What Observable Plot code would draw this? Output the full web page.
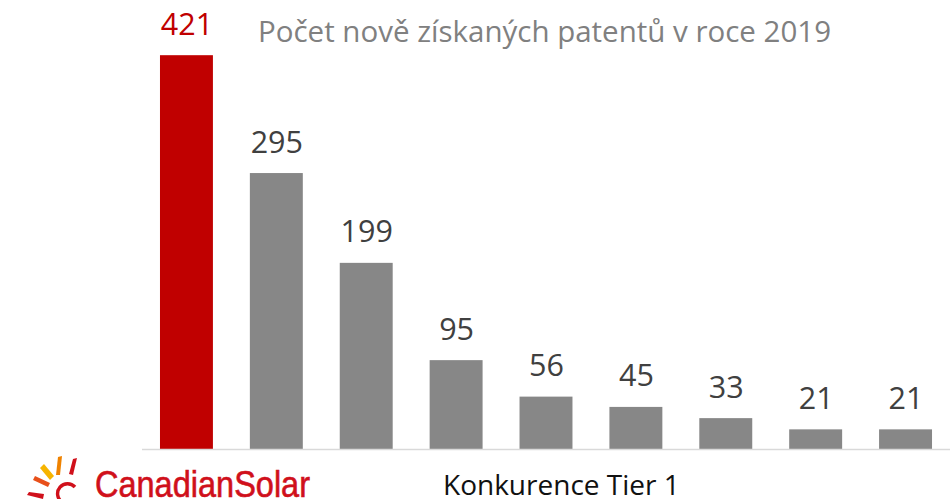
<!DOCTYPE html>
<html>
<head>
<meta charset="utf-8">
<script src="https://cdn.jsdelivr.net/npm/d3@7"></script>
<script src="https://cdn.jsdelivr.net/npm/@observablehq/plot@0.6"></script>
<style>
  html, body { margin: 0; padding: 0; background: #fff; }
  #wrap { position: relative; width: 950px; height: 499px; overflow: hidden; font-family: "Open Sans", sans-serif; }
  #chart { position: absolute; left: 0; top: 0; }
  #overlay { position: absolute; left: 0; top: 0; pointer-events: none; }
</style>
</head>
<body>
<div id="wrap">
  <div id="chart"></div>
  <svg id="overlay" width="950" height="499" viewBox="0 0 950 499">
    <text x="258" y="42" font-family="Open Sans, sans-serif" font-size="29.5" fill="#808080">Počet nově získaných patentů v roce 2019</text>
    <text x="443" y="495" font-family="Open Sans, sans-serif" font-size="28" fill="#111111">Konkurence Tier 1</text>
    <g id="logo">
      <polygon points="40,468 44,464 54,476 50,480" fill="#f6b400"/>
      <polygon points="58,457 62,456 60,475 56,475" fill="#ef8200"/>
      <polygon points="33,480 35,476 50,483 48,487" fill="#e8501a"/>
      <polygon points="73,459 77,458 73,475 69,474" fill="#d0101b"/>
      <polygon points="27,495 29,492 44,494 43,499" fill="#d0101b"/>
      <path d="M75,487 A10,10 0 1 0 62,502" fill="none" stroke="#d0101b" stroke-width="3.4"/>
      <text x="95" y="497" font-family="Liberation Sans, Arial, sans-serif" font-size="36" fill="#d0101b" stroke="#d0101b" stroke-width="0.6" textLength="215" lengthAdjust="spacingAndGlyphs">CanadianSolar</text>
    </g>
  </svg>
</div>
<script>
const categories = ["Canadian Solar", "Konkurent 1", "Konkurent 2", "Konkurent 3", "Konkurent 4", "Konkurent 5", "Konkurent 6", "Konkurent 7", "Konkurent 8"];
const values = [421, 295, 199, 95, 56, 45, 33, 21, 21];
const highlight = "Canadian Solar";

const data = categories.map((c, i) => ({category: c, value: values[i]}));

const chart = Plot.plot({
  width: 950,
  height: 499,
  marginLeft: 142,
  marginRight: 0,
  marginTop: 0,
  marginBottom: 50,
  style: {fontFamily: "Open Sans, sans-serif", background: "transparent"},
  x: {domain: categories, paddingInner: 0.411, paddingOuter: 0.2, round: false, axis: null},
  y: {domain: [0, 480], axis: null},
  marks: [
    Plot.barY(data, {
      x: "category",
      y: "value",
      fill: d => d.category === highlight ? "#c00000" : "#878787"
    }),
    Plot.ruleY([0], {stroke: "#d9d9d9", strokeWidth: 1.5}),
    Plot.text(data, {
      x: "category",
      y: "value",
      text: d => String(d.value),
      lineAnchor: "bottom",
      dy: -21,
      fontSize: 30.5,
      fill: d => d.category === highlight ? "#c00000" : "#404040"
    })
  ]
});
document.getElementById("chart").appendChild(chart);
</script>
</body>
</html>
